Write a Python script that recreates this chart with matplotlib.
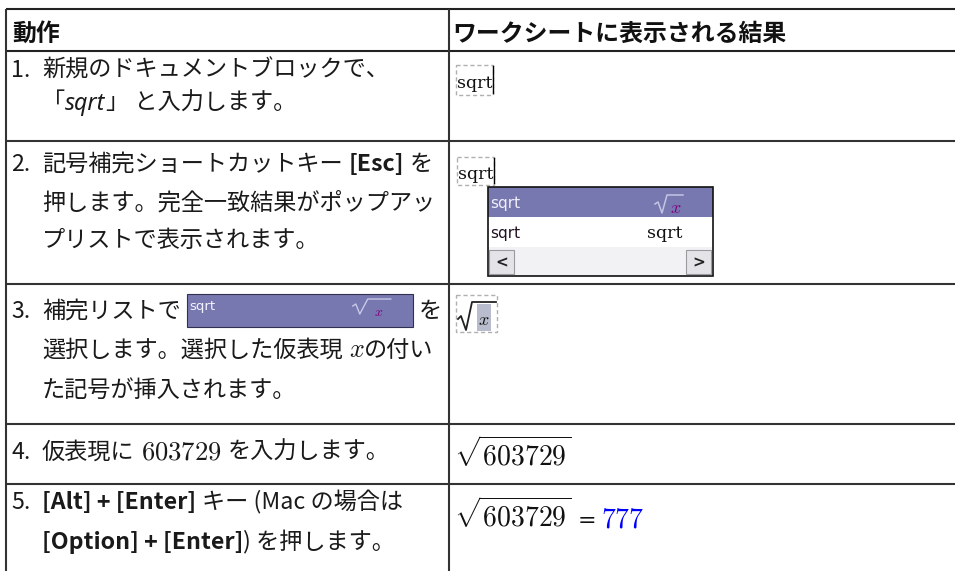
import matplotlib
matplotlib.use('Agg')
import matplotlib.pyplot as plt
from matplotlib.patches import Rectangle

plt.rcParams['mathtext.fontset'] = 'cm'

# ---------------- data ----------------
col_headers = ['動作', 'ワークシートに表示される結果']
step_numbers = ['1.', '2.', '3.', '4.', '5.']

step1 = [[('新規のドキュメントブロックで、', 'r')],
         [('「', 'r'), ('sqrt', 'i'), ('」 と入力します。', 'r')]]
step2 = [[('記号補完ショートカットキー ', 'r'), ('[Esc]', 'b'), (' を', 'r')],
         [('押します。完全一致結果がポップアッ', 'r')],
         [('プリストで表示されます。', 'r')]]
step3 = [[('補完リストで ', 'r'), ('BOX', 'box'), (' を', 'r')],
         [('選択します。選択した仮表現 ', 'r'), ('x', 'm'), ('の付い', 'r')],
         [('た記号が挿入されます。', 'r')]]
step4 = [[('仮表現に ', 'r'), ('603729', 'n'), (' を入力します。', 'r')]]
step5 = [[('[Alt] + [Enter]', 'b'), (' キー (Mac の場合は', 'r')],
         [('[Option] + [Enter]', 'b'), (') を押します。', 'r')]]
steps = [step1, step2, step3, step4, step5]

popup_name = 'sqrt'
popup_alt = 'sqrt'
radicand = '603729'
result = '777'

# ---------------- layout ----------------
W, H = 955, 571
fig = plt.figure(figsize=(W / 100, H / 100), dpi=100)
ax = fig.add_axes([0, 0, 1, 1])
ax.set_xlim(0, W)
ax.set_ylim(H, 0)
ax.axis('off')
renderer = fig.canvas.get_renderer()

CJK = 'Noto Sans CJK JP'
BODY = 16.7
HEAD = 17.2
TXT = '#1a1a1a'
LINE = '#333333'
PURPLE = '#7878b0'

# table lines
hlines = [8.5, 51, 140.5, 283.5, 423.5, 484]
left_x, div_x = 5.5, 448.5
for i, y in enumerate(hlines):
    ax.plot([left_x, W + 5], [y, y], color='#222222' if i < 2 else LINE, lw=1.5,
            solid_capstyle='butt')
for x in (left_x, div_x):
    ax.plot([x, x], [hlines[0], H + 5], color=LINE, lw=1.5, solid_capstyle='butt')


def styled(style, size):
    kw = dict(family=[CJK, 'DejaVu Sans'], fontsize=size, color=TXT)
    if style == 'b':
        kw['fontweight'] = 'bold'
    elif style == 'i':
        kw['family'] = ['Noto Sans', 'DejaVu Sans']
        kw['fontstyle'] = 'italic'
    return kw


def inline_box(x, y):
    # small highlighted completion entry
    x0, w, top, h = x, 226, y - 24, 33
    ax.add_patch(Rectangle((x0, top), w, h, facecolor=PURPLE, edgecolor='#303050', lw=0.8))
    ax.text(x0 + 3, y - 8, 'sqrt', fontsize=9.5, color='#f4f4ff', family='DejaVu Sans',
            va='baseline')
    ax.plot([x0 + 166, x0 + 169, x0 + 173, x0 + 181, x0 + 204],
            [y - 12, y - 14, y - 4, y - 19, y - 19], color='#c8c8e8', lw=1)
    ax.text(x0 + 187, y - 2, '$x$', fontsize=10, color='#800080', va='baseline')
    return w


def draw_line(x, y, parts, size=BODY):
    sp = 0.26 * size * 100 / 72
    for txt, st in parts:
        if st == 'box':
            x += inline_box(x, y)
            continue
        lead = len(txt) - len(txt.lstrip(' '))
        trail = len(txt) - len(txt.rstrip(' '))
        core = txt.strip(' ')
        x += lead * sp
        if st == 'm':
            t = ax.text(x, y, '$' + core + '$', fontsize=size + 2, color=TXT, va='baseline')
        elif st == 'n':
            t = ax.text(x, y, '$' + core + '$', fontsize=size + 2.5, color=TXT, va='baseline')
        else:
            t = ax.text(x, y, core, va='baseline', **styled(st, size))
        x += t.get_window_extent(renderer).width + trail * sp
    return x


# headers
ax.text(12, 41, col_headers[0], fontsize=HEAD, fontweight='bold',
        family=[CJK, 'DejaVu Sans'], color='#111111', va='baseline')
ax.text(452, 41, col_headers[1], fontsize=HEAD, fontweight='bold',
        family=[CJK, 'DejaVu Sans'], color='#111111', va='baseline')

baselines = [[77, 110], [171, 210, 247], [318, 357, 397], [459], [509, 549]]
for num, step, bls in zip(step_numbers, steps, baselines):
    ax.text(11, bls[0], num, va='baseline', **styled('r', BODY))
    for parts, yb in zip(step, bls):
        draw_line(42, yb, parts)


# ---- right column ----
def dashed_word(x0, top, bottom, base):
    ax.add_patch(Rectangle((x0, top), 37, bottom - top, fill=False, edgecolor='#b0b0b0',
                           lw=1, ls=(0, (3, 2))))
    ax.text(x0 + 1, base, popup_name, family='DejaVu Serif', fontsize=12.5,
            color='#111111', va='baseline')
    ax.plot([x0 + 37, x0 + 37], [top + 1, bottom - 2], color='#000000', lw=1)


dashed_word(456, 65, 95, 88)
dashed_word(457, 157, 185, 179)

# popup list
px0, px1, py0, py1 = 488, 713, 186.5, 276
ax.add_patch(Rectangle((px0, py0), px1 - px0, 30.5, facecolor=PURPLE, edgecolor='none'))
ax.add_patch(Rectangle((px0, 247), px1 - px0, py1 - 247, facecolor='#f2f2f4', edgecolor='none'))
ax.add_patch(Rectangle((px0, py0), px1 - px0, py1 - py0, fill=False, edgecolor='#111111', lw=1.2))
ax.text(490, 208, popup_name, fontsize=11, family='DejaVu Sans', color='#eeeef8', va='baseline')
ax.plot([655, 658, 662, 667, 683], [204, 202, 213, 195, 195], color='#c4c4e4', lw=1.1)
ax.text(670, 213, '$x$', fontsize=13, color='#800080', va='baseline')
ax.text(490, 238, popup_alt, fontsize=11, family='DejaVu Sans', color='#221122', va='baseline')
ax.text(647, 238, popup_alt, fontsize=12.5, family='DejaVu Serif', color='#111111',
        va='baseline')
for bx, arrow in ((489, '<'), (686, '>')):
    ax.add_patch(Rectangle((bx, 250), 25, 24, facecolor='#e4e4e8', edgecolor='#9a9aa0', lw=0.8))
    ax.text(bx + 12.5, 262.5, arrow, fontsize=11, fontweight='bold', family='DejaVu Sans',
            color='#222222', ha='center', va='center')

# row 3: inserted placeholder
ax.add_patch(Rectangle((456, 295), 41, 37, fill=False, edgecolor='#b0b0b0', lw=1,
                       ls=(0, (3, 2))))
ax.add_patch(Rectangle((477, 304), 14, 27, facecolor='#b8bccc', edgecolor='none'))
ax.plot([458, 461, 466, 472, 496], [319, 316, 330, 302, 302], color='#222222', lw=1.3)
ax.text(478, 325, '$x$', fontsize=13, color='#111111', va='baseline')

# row 4 & 5: results
ax.text(454, 466, r'$\sqrt{%s}$' % radicand, fontsize=20, color='#111111', va='baseline')
t = ax.text(454, 527, r'$\sqrt{%s}$' % radicand, fontsize=20, color='#111111', va='baseline')
xe = 454 + t.get_window_extent(renderer).width
ax.text(xe + 6, 527, '=', fontsize=16, family='DejaVu Sans', color='#111111', va='baseline')
ax.text(xe + 30, 527, '$%s$' % result, fontsize=20, color='#0000ff', va='baseline')

fig.savefig('out.png', dpi=100)
